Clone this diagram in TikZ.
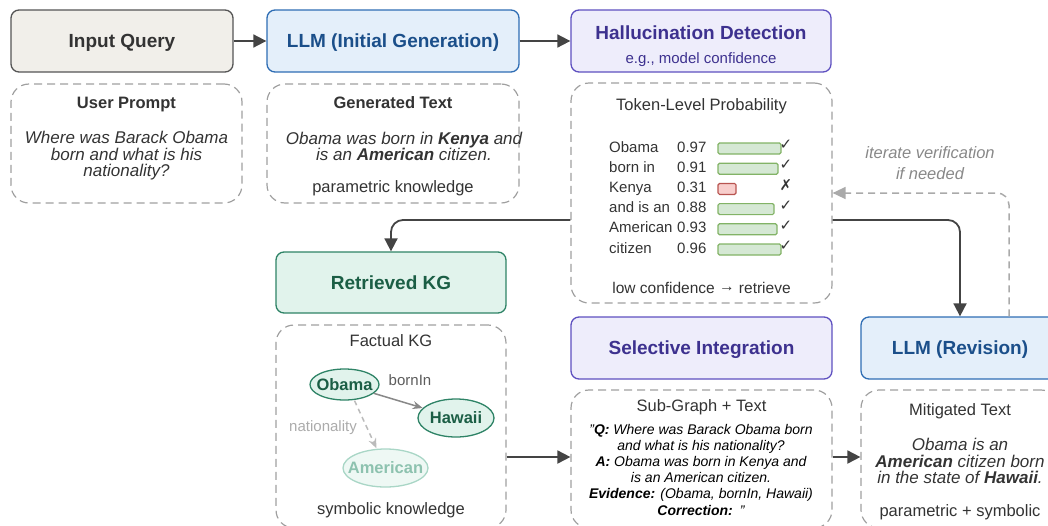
\documentclass[tikz,border=0pt]{standalone}
\usepackage{fontspec}
\setmainfont{Liberation Sans}
\newfontfamily\symfont{DejaVu Sans}
\usetikzlibrary{arrows.meta,shapes.geometric,calc}
\definecolor{txt}{HTML}{333333}
\definecolor{qFill}{HTML}{F1EFEA}
\definecolor{qDraw}{HTML}{555555}
\definecolor{bFill}{HTML}{E4EFFA}
\definecolor{bDraw}{HTML}{2E6DB4}
\definecolor{bText}{HTML}{1B4F8A}
\definecolor{pFill}{HTML}{EEEDFB}
\definecolor{pDraw}{HTML}{5E50C0}
\definecolor{pText}{HTML}{3D318F}
\definecolor{gFill}{HTML}{E1F3EC}
\definecolor{gDraw}{HTML}{2E8366}
\definecolor{gText}{HTML}{1B5E45}
\definecolor{faFill}{HTML}{EEF8F4}
\definecolor{faDraw}{HTML}{A9D6C6}
\definecolor{faText}{HTML}{8DC2AF}
\definecolor{dashc}{HTML}{A0A0A0}
\definecolor{arrc}{HTML}{444444}
\definecolor{fbc}{HTML}{AAAAAA}
\definecolor{barF}{HTML}{D5E8D4}
\definecolor{barD}{HTML}{82B366}
\definecolor{redF}{HTML}{F8CECC}
\definecolor{redD}{HTML}{B85450}
\definecolor{edgec}{HTML}{888888}
\definecolor{edgel}{HTML}{BBBBBB}
\definecolor{lblgray}{HTML}{ABABAB}
\begin{document}
\begin{tikzpicture}[x=1pt,y=-1pt,
  box/.style={draw, rounded corners=8pt, line width=1.3pt, inner sep=0pt},
  dbox/.style={draw=dashc, line width=1.2pt, dash pattern=on 8pt off 5pt, rounded corners=18pt, inner sep=0pt},
  ttl/.style={font=\fontsize{19}{19}\selectfont\bfseries, text height=13.6pt, text depth=0pt},
  lbl/.style={inner sep=0pt, text=txt, font=\fontsize{16.5}{16.5}\selectfont, text height=11.8pt, text depth=0pt},
  sml/.style={inner sep=0pt, text=txt, font=\fontsize{15}{15}\selectfont},
  itx/.style={inner sep=0pt, text=txt, align=center, font=\fontsize{17}{16.6}\selectfont\itshape},
  arr/.style={draw=arrc, line width=1.8pt, -{Triangle[length=13pt,width=13pt]}},
  fbarr/.style={draw=fbc, line width=1.5pt, dash pattern=on 7pt off 5pt, -{Triangle[length=13pt,width=12pt]}},
  kgn/.style={ellipse, draw=gDraw, fill=gFill, line width=1.3pt, inner sep=0pt},
  kgl/.style={inner sep=0pt, text=gText, font=\fontsize{16.5}{16.5}\selectfont\bfseries, text height=11.8pt, text depth=0pt},
]
\useasboundingbox (0,0) rectangle (1048,525);
\clip (0,0) rectangle (1048,525);

% ---- top row
\node[box, ttl, draw=qDraw, fill=qFill, text=txt, minimum width=222pt, minimum height=62pt] (inq) at (122,41) {Input Query};
\node[box, ttl, draw=bDraw, fill=bFill, text=bText, minimum width=252pt, minimum height=62pt] (llm1) at (393,41) {LLM (Initial Generation)};
\node[box, draw=pDraw, fill=pFill, minimum width=260pt, minimum height=62pt] (hd) at (701,41) {};
\node[ttl, text=pText, inner sep=0pt] (hdt) at (701,33) {Hallucination Detection};
\node[inner sep=0pt, text=pText, font=\fontsize{15}{15}\selectfont, text height=10.8pt, text depth=0pt] (hds) at (701,58) {e.g., model confidence};

% ---- dashed detail boxes, row 1
\node[dbox, minimum width=231pt, minimum height=119pt] (up) at (126.5,143.5) {};
\node[lbl, font=\fontsize{16.5}{16.5}\selectfont\bfseries] (upt) at (126.5,103) {User Prompt};
\node[itx] (upx) at (126.5,156) {Where was Barack Obama\\born and what is his\\nationality?};

\node[dbox, minimum width=252pt, minimum height=119pt] (gt) at (393,143.5) {};
\node[lbl, font=\fontsize{16.5}{16.5}\selectfont\bfseries] (gtt) at (393,103) {Generated Text};
\node[itx] (gtx) at (404,146.5) {Obama was born in \textbf{Kenya} and\\is an \textbf{American} citizen.};
\node[lbl] (gtp) at (393,187) {parametric knowledge};

% ---- token level probability
\node[dbox, minimum width=261pt, minimum height=220pt] (tok) at (701.5,193) {};
\node[lbl] (tokt) at (701.5,105) {Token-Level Probability};
\foreach \i/\tk/\vl/\w/\fc/\dc/\mk in {0/Obama/0.97/63/barF/barD/✓,1/born in/0.91/60/barF/barD/✓,2/Kenya/0.31/18/redF/redD/✗,3/and is an/0.88/56/barF/barD/✓,4/American/0.93/59/barF/barD/✓,5/citizen/0.96/63/barF/barD/✓}{
  \node[sml, anchor=base west] (tkl\i) at (609,{152+20.2*\i}) {\tk};
  \node[sml, anchor=base west] (tkv\i) at (677,{152+20.2*\i}) {\vl};
  \draw[fill=\fc, draw=\dc, line width=1.2pt, rounded corners=1.5pt] (718,{143+20.2*\i}) rectangle ++(\w,11);
  \node[inner sep=0pt, text=txt, font=\symfont\fontsize{15}{15}\selectfont] (tkm\i) at (786,{145+20.2*\i}) {\mk};
}
\node[lbl, font=\fontsize{15.5}{15.5}\selectfont] (tokb) at (701.5,288) {low confidence \raisebox{2.5pt}{→} retrieve};

% ---- retrieved KG
\node[box, ttl, draw=gDraw, fill=gFill, text=gText, minimum width=230pt, minimum height=61pt] (rkg) at (391,282.5) {Retrieved KG};
\node[dbox, minimum width=230pt, minimum height=203pt] (fkg) at (391,426.5) {};
\node[lbl] (fkgt) at (391,341) {Factual KG};
\node[kgn, minimum width=69pt, minimum height=31pt] (obama) at (344.5,384.5) {};
\node[kgl] (obamal) at (obama) {Obama};
\node[kgn, minimum width=76pt, minimum height=38pt] (hawaii) at (456,418) {};
\node[kgl] (hawaiil) at (hawaii) {Hawaii};
\node[kgn, draw=faDraw, fill=faFill, minimum width=85pt, minimum height=38pt] (american) at (385.5,468) {};
\node[kgl, text=faText] (americanl) at (american) {American};
\draw[draw=edgec, line width=1.5pt, -{Stealth[length=10pt,width=8pt]}] (obama) -- (hawaii);
\draw[draw=edgel, line width=1.5pt, dash pattern=on 5pt off 4pt, -{Stealth[length=10pt,width=8pt]}] ([xshift=10pt]obama.south) -- ([xshift=-9pt]american.north);
\node[sml, text=txt!80] (bornin) at (410,380) {bornIn};
\node[sml, text=lblgray] (natl) at (323,428) {nationality};
\node[lbl] (symk) at (391,509) {symbolic knowledge};

% ---- selective integration
\node[box, ttl, draw=pDraw, fill=pFill, text=pText, minimum width=261pt, minimum height=62pt] (si) at (701.5,348) {Selective Integration};
\node[dbox, minimum width=261pt, minimum height=138pt] (sg) at (701.5,459) {};
\node[lbl] (sgt) at (701.5,406) {Sub-Graph + Text};
\node[inner sep=0pt, align=center, text=black, font=\fontsize{14}{16.2}\selectfont\itshape] (sgx) at (701,469.5) {"\textbf{Q:} Where was Barack Obama born\\and what is his nationality?\\\textbf{A:} Obama was born in Kenya and\\is an American citizen.\\\textbf{Evidence:} (Obama, bornIn, Hawaii)\\\textbf{Correction:}\hspace{7pt}"};

% ---- LLM revision
\node[box, ttl, draw=bDraw, fill=bFill, text=bText, minimum width=198pt, minimum height=62pt] (llmr) at (960,348) {LLM (Revision)};
\node[dbox, minimum width=198pt, minimum height=138pt] (mit) at (960,459) {};
\node[lbl] (mitt) at (960,410) {Mitigated Text};
\node[itx] (mitx) at (960,461) {Obama is an\\\textbf{American} citizen born\\in the state of \textbf{Hawaii}.};
\node[lbl] (mitp) at (960,511) {parametric + symbolic};

% ---- connectors
\draw[arr] (inq) -- (llm1);
\draw[arr] (llm1) -- (hd);
\draw[arr, rounded corners=12pt] ([yshift=-27pt]tok.west) -| (rkg.north);
\draw[arr, rounded corners=12pt] ([yshift=-27pt]tok.east) -| (llmr.north);
\draw[fbarr, rounded corners=12pt] ([xshift=49pt]llmr.north) |- (tok.east);
\node[inner sep=0pt, text=edgec, align=center, font=\fontsize{16.5}{21}\selectfont\itshape] (fbl) at (930,163) {iterate verification\\if needed};
\draw[arr] ([yshift=-30.5pt]fkg.east) -- ([yshift=2pt]sg.west);
\draw[arr] ([yshift=2pt]sg.east) -- ([yshift=2pt]mit.west);
\end{tikzpicture}
\end{document}
